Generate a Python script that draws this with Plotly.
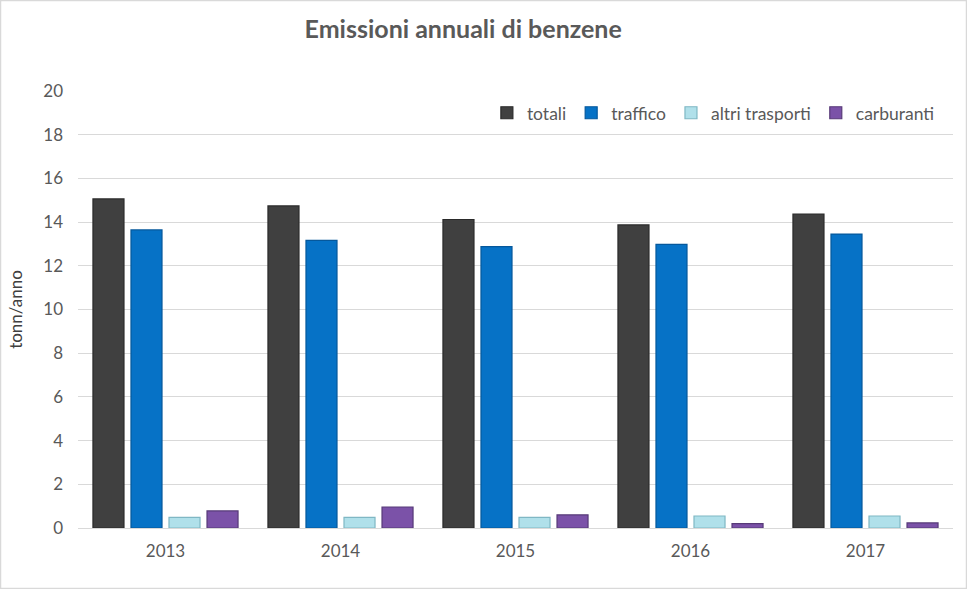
import plotly.graph_objects as go

years = ["2013", "2014", "2015", "2016", "2017"]
totali = [15.06, 14.74, 14.12, 13.87, 14.37]
traffico = [13.64, 13.16, 12.88, 12.98, 13.45]
altri_trasporti = [0.49, 0.49, 0.49, 0.55, 0.55]
carburanti = [0.78, 0.96, 0.60, 0.20, 0.23]

series = [
    ("totali", totali, "#404040", "#2a2a2a"),
    ("traffico", traffico, "#0672c6", "#05589c"),
    ("altri trasporti", altri_trasporti, "#b0e0ea", "#7fb7c4"),
    ("carburanti", carburanti, "#7b52a8", "#573a78"),
]

fig = go.Figure()
for name, vals, col, line in series:
    fig.add_trace(go.Bar(
        x=years, y=vals, name=name,
        marker=dict(color=col, line=dict(color=line, width=1.2)),
    ))

font = "Lato, 'Open Sans', sans-serif"
fig.update_layout(
    width=967, height=589,
    margin=dict(l=78, r=14, t=91, b=61),
    paper_bgcolor="white", plot_bgcolor="white",
    barmode="group", bargap=0.131, bargroupgap=0.184,
    font=dict(family=font, color="#595959", size=17),
    title=dict(text="<b>Emissioni annuali di benzene</b>", x=0.479, xanchor="center",
               y=0.951, yanchor="middle", font=dict(size=25, color="#595959", family=font)),
    showlegend=True,
    legend=dict(orientation="h", x=0.985, xanchor="right", y=0.95, yanchor="middle",
                font=dict(size=17.5, color="#595959"), bgcolor="rgba(0,0,0,0)",
                traceorder="normal", itemwidth=30),
    xaxis=dict(showgrid=False, ticks="", showline=True, linecolor="#d9d9d9",
               ticklabelstandoff=8,
               tickfont=dict(size=17, color="#595959")),
    yaxis=dict(range=[0, 20], dtick=2, showgrid=True, gridcolor="#d9d9d9",
               zeroline=False, showline=False, ticks="", ticklabelstandoff=14,
               tickfont=dict(size=17, color="#595959")),
    shapes=[dict(type="rect", xref="paper", yref="paper", x0=-77.5/875, x1=1+13.5/875,
                 y0=-60.5/437, y1=1+90.5/437, line=dict(color="#d9d9d9", width=1.5),
                 fillcolor="rgba(0,0,0,0)", layer="below")],
)
fig.update_yaxes(title=dict(text="tonn/anno", font=dict(size=17, color="#404040"), standoff=16))

fig.write_html("out.html", config={"displayModeBar": False},
               post_script="document.body.style.margin='0';")
